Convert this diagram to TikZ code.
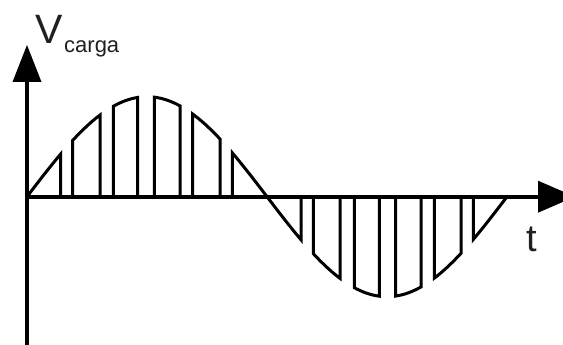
\documentclass[tikz,border=0pt]{standalone}
\usepackage{fontspec}
\setmainfont{Liberation Sans}
\definecolor{txt}{RGB}{35,31,32}
\begin{document}
\begin{tikzpicture}[x=1pt,y=-1pt,
  wave/.style={line width=3pt,line join=miter},
  axisline/.style={line width=4pt},
  tip/.style={fill=black,draw=none},
  lbl/.style={inner sep=0pt,anchor=base west,text=txt},
  declare function={f(\x)=196.7-100*sin((\x-27)*0.75);}]
\useasboundingbox (0,0) rectangle (563,345);
\clip (0,0) rectangle (563,345);
% chopped sine wave
\foreach \a/\b in {27/60.7, 72.7/100, 113.3/137.7, 154.3/180, 192.7/220, 232.3/301, 313.3/340, 354.3/379.3, 395.7/421, 434.3/461, 473.3/506.7}
  \draw[wave] (\a,196.7) -- plot[domain=\a:\b, samples=24] (\x,{f(\x)}) -- (\b,196.7);
% axes
\coordinate (o) at (27,196.7);
\coordinate (ybot) at (27,345);
\coordinate (ytop) at (27,80);
\coordinate (xend) at (540,196.7);
\draw[axisline] (ybot) -- (ytop);
\draw[axisline] (o) -- (xend);
\fill[tip] (27,45) -- (12.5,82) -- (41.5,82) -- cycle;
\fill[tip] (575,196.7) -- (538,180.7) -- (538,212.7) -- cycle;
% labels
\node[lbl,font=\fontsize{41}{41}\selectfont] (v) at (35,43.3) {V};
\node[lbl,font=\fontsize{22}{22}\selectfont] (c) at (64,52.7) {carga};
\node[lbl,font=\fontsize{38}{38}\selectfont] (t) at (526.6,251.7) {t};
\end{tikzpicture}
\end{document}
